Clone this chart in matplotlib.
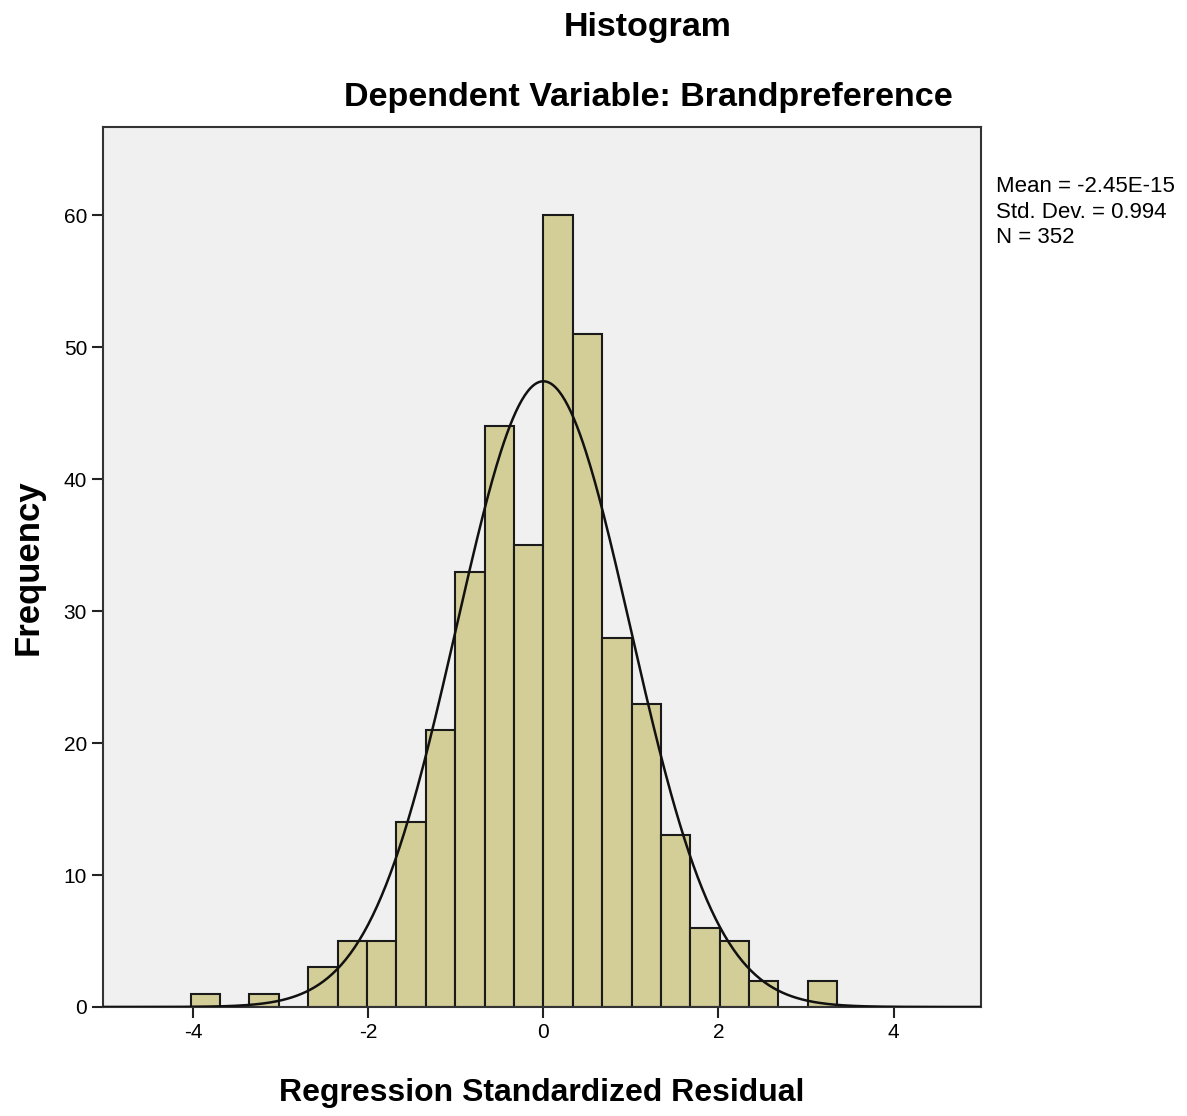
import numpy as np
import matplotlib
matplotlib.use("Agg")
import matplotlib.pyplot as plt

plt.rcParams['font.family'] = ['Liberation Sans', 'DejaVu Sans']

# histogram of regression standardized residuals
bin_width = 0.3357
bin_index = [-12, -10, -8, -7, -6, -5, -4, -3, -2, -1, 0, 1, 2, 3, 4, 5, 6, 7, 9]
counts = [1, 1, 3, 5, 5, 14, 21, 33, 44, 35, 60, 51, 28, 23, 13, 6, 5, 2, 2]
mean = -2.45e-15
std = 0.994
n = 352
stats_lines = ["Mean = -2.45E-15", "Std. Dev. = 0.994", "N = 352"]

fig = plt.figure(figsize=(11.87, 11.16), dpi=100)
ax = fig.add_axes([0.0868, 0.0977, 0.7397, 0.7885])
ax.set_facecolor("#f0f0f0")

lefts = np.array(bin_index) * bin_width
ax.bar(lefts, counts, width=bin_width, align="edge", color="#d3ce97",
       edgecolor="#1a1a1a", linewidth=1.5, zorder=2)

# fitted normal curve scaled to counts
xs = np.linspace(-5.1, 5.1, 600)
ys = n * bin_width / (np.sqrt(2 * np.pi) * std) * np.exp(-0.5 * ((xs - mean) / std) ** 2)
ax.plot(xs, ys, color="#111111", linewidth=1.8, zorder=3)

ax.set_xlim(-5.03, 5.0)
ax.set_ylim(0, 66.7)
ax.set_xticks([-4, -2, 0, 2, 4])
ax.set_xticklabels(["-4", "-2", "0", "2", "4"])
ax.set_yticks([0, 10, 20, 30, 40, 50, 60])
ax.tick_params(direction="out", length=8, width=1.5, labelsize=15, color="#222222")
for s in ax.spines.values():
    s.set_color("#333333")
    s.set_linewidth(1.5)

ax.set_xlabel("Regression Standardized Residual", fontsize=23, fontweight="bold", labelpad=26)
ax.set_ylabel("Frequency", fontsize=25, fontweight="bold", labelpad=14)

fig.text(0.546, 0.975, "Histogram", ha="center", va="center", fontsize=24.5, fontweight="bold")
fig.text(0.546, 0.913, "Dependent Variable: Brandpreference", ha="center", va="center",
         fontsize=24.5, fontweight="bold")
fig.text(0.839, 0.842, "\n".join(stats_lines), ha="left", va="top", fontsize=16,
         linespacing=1.28)

fig.savefig("out.png", dpi=100)
